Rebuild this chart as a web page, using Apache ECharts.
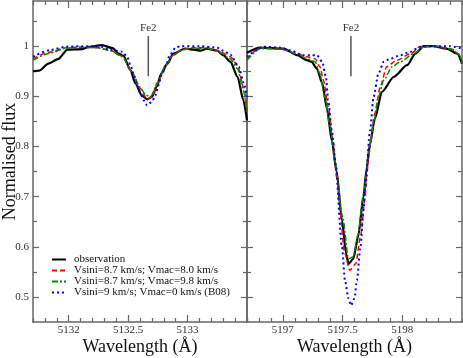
<!DOCTYPE html>
<html>
<head>
<meta charset="utf-8">
<script src="https://cdn.jsdelivr.net/npm/echarts@6/dist/echarts.min.js"></script>
<style>
  html, body { margin: 0; padding: 0; background: #fff; }
  #chart { width: 463px; height: 358px; }
</style>
</head>
<body>
<div id="chart"></div>
<script>
// wavelength windows and flux range
const leftRange = [5131.7, 5133.5]
const rightRange = [5196.7, 5198.5]
const fluxRange = [0.45, 1.09]

// tick labels
const leftMajor = [5132, 5132.5, 5133]
const rightMajor = [5197, 5197.5, 5198]
const fluxMajor = [0.5, 0.6, 0.7, 0.8, 0.9, 1]
const fluxMinor = [0.55, 0.65, 0.75, 0.85, 0.95, 1.05]

const names = [
  'observation',
  'Vsini=8.7 km/s; Vmac=8.0 km/s',
  'Vsini=8.7 km/s; Vmac=9.8 km/s',
  'Vsini=9 km/s; Vmac=0 km/s (B08)'
]

// Fe2 line positions (wavelength) and marker extent (flux)
const fe2Left = 5132.67
const fe2Right = 5197.57
const fe2Extent = [1.02, 0.94]

// left window: 5131.7 - 5133.5
const obsLeft = [[5131.70,0.950],[5131.75,0.951],[5131.83,0.965],[5131.91,0.974],[5131.99,0.993],[5132.12,0.994],[5132.16,0.998],[5132.28,1.002],[5132.37,0.996],[5132.42,0.985],[5132.46,0.981],[5132.52,0.952],[5132.56,0.926],[5132.615,0.902],[5132.66,0.894],[5132.70,0.899],[5132.74,0.919],[5132.78,0.946],[5132.83,0.965],[5132.88,0.985],[5132.98,0.995],[5133.05,0.993],[5133.11,0.991],[5133.16,0.995],[5133.25,0.991],[5133.30,0.982],[5133.36,0.969],[5133.42,0.939],[5133.47,0.892],[5133.50,0.852]]
const redLeft = [[5131.70,0.975],[5131.84,0.988],[5131.98,0.997],[5132.10,0.998],[5132.24,0.997],[5132.35,0.992],[5132.45,0.980],[5132.53,0.949],[5132.60,0.916],[5132.66,0.894],[5132.70,0.899],[5132.75,0.926],[5132.81,0.959],[5132.88,0.982],[5132.96,0.994],[5133.05,0.997],[5133.16,0.997],[5133.26,0.991],[5133.36,0.979],[5133.42,0.962],[5133.47,0.919],[5133.50,0.872]]
const greenLeft = [[5131.70,0.972],[5131.84,0.986],[5131.98,0.996],[5132.10,0.998],[5132.24,0.997],[5132.35,0.991],[5132.45,0.979],[5132.53,0.950],[5132.60,0.918],[5132.65,0.902],[5132.69,0.900],[5132.75,0.928],[5132.81,0.960],[5132.88,0.982],[5132.96,0.993],[5133.05,0.996],[5133.16,0.996],[5133.26,0.989],[5133.36,0.975],[5133.42,0.955],[5133.47,0.912],[5133.50,0.865]]
const blueLeft = [[5131.70,0.979],[5131.84,0.992],[5131.98,0.999],[5132.10,1.0],[5132.26,1.0],[5132.35,0.993],[5132.45,0.989],[5132.49,0.980],[5132.52,0.962],[5132.545,0.945],[5132.57,0.925],[5132.60,0.909],[5132.63,0.892],[5132.66,0.882],[5132.70,0.889],[5132.73,0.902],[5132.755,0.922],[5132.78,0.942],[5132.82,0.962],[5132.85,0.982],[5132.90,0.997],[5132.94,1.0],[5133.10,1.0],[5133.25,0.997],[5133.30,0.991],[5133.36,0.983],[5133.43,0.959],[5133.475,0.925],[5133.50,0.899]]

// right window: 5196.7 - 5198.5
const obsRight = [[5196.70,0.987],[5196.81,0.997],[5197.005,0.995],[5197.12,0.982],[5197.20,0.972],[5197.24,0.969],[5197.285,0.955],[5197.33,0.926],[5197.37,0.875],[5197.41,0.812],[5197.45,0.750],[5197.495,0.653],[5197.53,0.586],[5197.55,0.566],[5197.59,0.576],[5197.63,0.620],[5197.675,0.699],[5197.70,0.753],[5197.73,0.805],[5197.77,0.855],[5197.83,0.909],[5197.93,0.939],[5198.04,0.962],[5198.11,0.985],[5198.18,1.0],[5198.26,1.0],[5198.37,0.995],[5198.46,0.985],[5198.50,0.965]]
const redRight = [[5196.70,0.975],[5196.81,0.997],[5196.98,0.994],[5197.12,0.985],[5197.20,0.979],[5197.27,0.975],[5197.31,0.959],[5197.34,0.932],[5197.38,0.879],[5197.42,0.812],[5197.45,0.739],[5197.52,0.586],[5197.56,0.553],[5197.61,0.566],[5197.65,0.620],[5197.69,0.699],[5197.70,0.739],[5197.73,0.806],[5197.77,0.866],[5197.815,0.919],[5197.87,0.959],[5197.955,0.972],[5198.07,0.985],[5198.15,0.999],[5198.26,1.0],[5198.40,0.995],[5198.47,0.985],[5198.50,0.972]]
const greenRight = [[5196.70,0.972],[5196.81,0.995],[5196.98,0.995],[5197.12,0.985],[5197.20,0.975],[5197.27,0.969],[5197.31,0.945],[5197.35,0.899],[5197.395,0.839],[5197.44,0.766],[5197.50,0.660],[5197.55,0.576],[5197.59,0.580],[5197.63,0.625],[5197.675,0.705],[5197.715,0.779],[5197.76,0.846],[5197.80,0.899],[5197.845,0.932],[5197.915,0.959],[5197.985,0.969],[5198.095,0.985],[5198.18,0.999],[5198.29,1.0],[5198.42,0.994],[5198.48,0.982],[5198.50,0.965]]
const blueRight = [[5196.70,0.979],[5196.84,0.999],[5196.98,0.997],[5197.06,0.992],[5197.17,0.982],[5197.23,0.982],[5197.285,0.982],[5197.33,0.969],[5197.36,0.939],[5197.38,0.892],[5197.41,0.832],[5197.44,0.766],[5197.495,0.600],[5197.52,0.533],[5197.55,0.497],[5197.57,0.483],[5197.60,0.497],[5197.62,0.533],[5197.65,0.600],[5197.675,0.673],[5197.69,0.719],[5197.73,0.832],[5197.76,0.899],[5197.80,0.945],[5197.845,0.969],[5197.90,0.975],[5197.985,0.982],[5198.07,0.989],[5198.15,0.999],[5198.26,1.0],[5198.40,1.0],[5198.50,0.995]]

const serif = "'Liberation Serif', 'Times New Roman', serif"
const frame = '#666'

// minor ticks every 0.1 A, skipping the labelled ones
function minorTicks(range, majors) {
  const out = []
  for (let v = range[0]; v <= range[1] + 1e-6; v += 0.1) {
    const r = Math.round(v * 10) / 10
    if (!majors.some(m => Math.abs(m - r) < 1e-6)) out.push(r)
  }
  return out
}

function tick(vals, len) {
  return { show: true, inside: true, length: len, customValues: vals, lineStyle: { color: frame, width: 1.2 } }
}

function xAxes(g, range, majors) {
  const minors = minorTicks(range, majors)
  const base = { gridIndex: g, type: 'value', min: range[0], max: range[1], splitLine: { show: false } }
  return [
    { ...base, position: 'bottom',
      name: 'Wavelength (Å)', nameLocation: 'middle', nameGap: 16, nameMoveOverlap: false,
      nameTextStyle: { fontFamily: serif, fontSize: 18, color: '#111' },
      axisLine: { show: true, onZero: false, lineStyle: { color: frame, width: 1.5 } },
      axisTick: tick(majors, 7),
      axisLabel: { show: true, customValues: majors, formatter: v => String(v), margin: 3,
        fontFamily: serif, fontSize: 11, color: '#333' } },
    { ...base, position: 'bottom', axisLine: { show: false }, axisTick: tick(minors, 4), axisLabel: { show: false } },
    { ...base, position: 'top', axisLine: { show: true, onZero: false, lineStyle: { color: frame, width: 1.5 } },
      axisTick: tick(majors, 7), axisLabel: { show: false } },
    { ...base, position: 'top', axisLine: { show: false }, axisTick: tick(minors, 4), axisLabel: { show: false } }
  ]
}

function yAxes(g, withLabels) {
  const base = { gridIndex: g, type: 'value', min: fluxRange[0], max: fluxRange[1], splitLine: { show: false } }
  const line = { show: true, onZero: false, lineStyle: { color: frame, width: 1.5 } }
  return [
    { ...base, position: 'left', axisLine: line, axisTick: tick(fluxMajor, 6),
      name: withLabels ? 'Normalised flux' : '', nameLocation: 'middle', nameGap: 14, nameMoveOverlap: false,
      nameTextStyle: { fontFamily: serif, fontSize: 18, color: '#111' },
      axisLabel: { show: withLabels, customValues: fluxMajor, formatter: v => String(v), margin: 4,
        fontFamily: serif, fontSize: 11, color: '#333' } },
    { ...base, position: 'left', axisLine: { show: false }, axisTick: tick(fluxMinor, 4), axisLabel: { show: false } },
    { ...base, position: 'right', axisLine: line, axisTick: tick(fluxMajor, 6), axisLabel: { show: false } },
    { ...base, position: 'right', axisLine: { show: false }, axisTick: tick(fluxMinor, 4), axisLabel: { show: false } }
  ]
}

const styles = [
  { color: '#000000', width: 2.2, type: 'solid' },
  { color: '#ff0000', width: 1.5, type: [5, 3] },
  { color: '#008c00', width: 1.5, type: [6, 2, 2, 2] },
  { color: '#0000ff', width: 2, type: [2, 3] }
]

function spectrum(name, data, g, style) {
  return {
    name, type: 'line', data,
    xAxisIndex: g * 4, yAxisIndex: g * 4,
    symbol: 'none', smooth: 0.25, smoothMonotone: 'x',
    itemStyle: { color: style.color },
    lineStyle: { color: style.color, width: style.width, type: style.type }
  }
}

function fe2Marker(g, wave) {
  return {
    name: 'Fe2', type: 'line', xAxisIndex: g * 4, yAxisIndex: g * 4,
    symbol: 'circle', symbolSize: 0.01, showSymbol: true,
    lineStyle: { color: '#555', width: 1.5 },
    itemStyle: { color: '#555' },
    data: [
      { value: [wave, fe2Extent[0]],
        label: { show: true, position: 'top', distance: 2, formatter: 'Fe2',
          fontFamily: serif, fontSize: 11, color: '#333' } },
      [wave, fe2Extent[1]]
    ]
  }
}

const chart = echarts.init(document.getElementById('chart'))

const series = []
const leftSets = [obsLeft, redLeft, greenLeft, blueLeft]
const rightSets = [obsRight, redRight, greenRight, blueRight]
names.forEach((n, i) => {
  series.push(spectrum(n, leftSets[i], 0, styles[i]))
  series.push(spectrum(n, rightSets[i], 1, styles[i]))
})
series.push(fe2Marker(0, fe2Left))
series.push(fe2Marker(1, fe2Right))

chart.setOption({
  animation: false,
  backgroundColor: '#fff',
  grid: [
    { left: 33, top: 1, width: 214, height: 321, outerBoundsMode: 'none', containLabel: false },
    { left: 247, top: 1, width: 215, height: 321, outerBoundsMode: 'none', containLabel: false }
  ],
  legend: {
    data: names,
    orient: 'vertical',
    left: 46, top: 249,
    itemWidth: 14, itemHeight: 11, itemGap: 0,
    itemStyle: { opacity: 0 },
    textStyle: { fontFamily: serif, fontSize: 11, color: '#111', padding: [0, 0, 0, 3] }
  },
  xAxis: [...xAxes(0, leftRange, leftMajor), ...xAxes(1, rightRange, rightMajor)],
  yAxis: [...yAxes(0, true), ...yAxes(1, false)],
  series
})
</script>
</body>
</html>
